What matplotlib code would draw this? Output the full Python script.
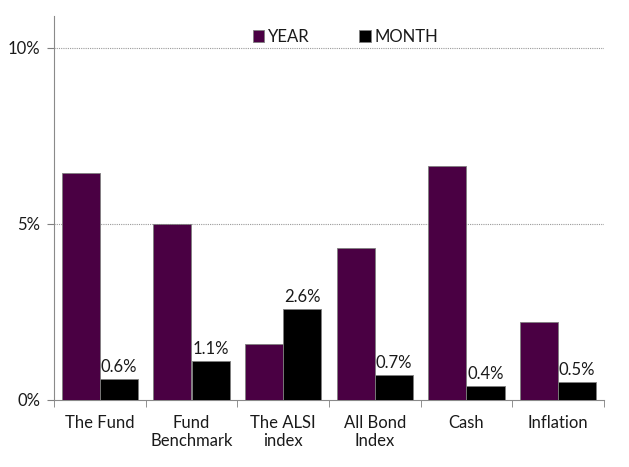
import matplotlib.pyplot as plt
import numpy as np

plt.rcParams['font.family'] = ['Lato', 'DejaVu Sans']

categories = ['The Fund', 'Fund\nBenchmark', 'The ALSI\nindex', 'All Bond\nIndex', 'Cash', 'Inflation']
year_vals = [6.43, 4.99, 1.59, 4.31, 6.65, 2.22]
month_vals = [0.6, 1.1, 2.58, 0.7, 0.4, 0.5]
month_labels = ['0.6%', '1.1%', '2.6%', '0.7%', '0.4%', '0.5%']

year_color = '#4a0043'
month_color = '#000000'

fig = plt.figure(figsize=(6.29, 4.67), dpi=100)
ax = fig.add_axes([54/629, 1 - 400/467, 550/629, 384/467])

x = np.arange(len(categories))
w = 0.415
ax.bar(x - w/2, year_vals, w, color=year_color, edgecolor='#7f7f7f', linewidth=0.6, label='YEAR', zorder=3)
ax.bar(x + w/2, month_vals, w, color=month_color, edgecolor='#7f7f7f', linewidth=0.6, label='MONTH', zorder=3)

for xi, v, lab in zip(x, month_vals, month_labels):
    ax.text(xi + w/2, v + 0.12, lab, ha='center', va='bottom', fontsize=12, color='#1a1a1a')

ax.set_xlim(-0.5, len(categories) - 0.5)
ax.set_ylim(0, 10.9)
ax.set_yticks([0, 5, 10])
ax.set_yticklabels(['0%', '5%', '10%'], fontsize=12, color='#1a1a1a')
ax.set_xticks(x)
ax.set_xticklabels(categories, fontsize=12, color='#1a1a1a', linespacing=1.1)
ax.set_xticks(np.arange(len(categories) + 1) - 0.5, minor=True)
ax.tick_params(axis='x', which='major', length=0, pad=11)
ax.tick_params(axis='x', which='minor', length=5, color='#7f7f7f', direction='out')
ax.tick_params(axis='y', length=5, color='#7f7f7f', pad=5)

for y in [5, 10]:
    ax.axhline(y, color='#9a9a9a', linestyle=(0, (1, 1)), linewidth=0.8, zorder=1)

ax.spines['top'].set_visible(False)
ax.spines['right'].set_visible(False)
ax.spines['left'].set_color('#8a8a8a')
ax.spines['bottom'].set_color('#8a8a8a')

leg = ax.legend(loc='center', bbox_to_anchor=(0.53, 0.945), ncol=2, frameon=False,
                fontsize=12, handlelength=0.7, handleheight=0.7, handletextpad=0.2,
                columnspacing=3.0)
for t in leg.get_texts():
    t.set_color('#1a1a1a')

fig.savefig('out.png', dpi=100)
